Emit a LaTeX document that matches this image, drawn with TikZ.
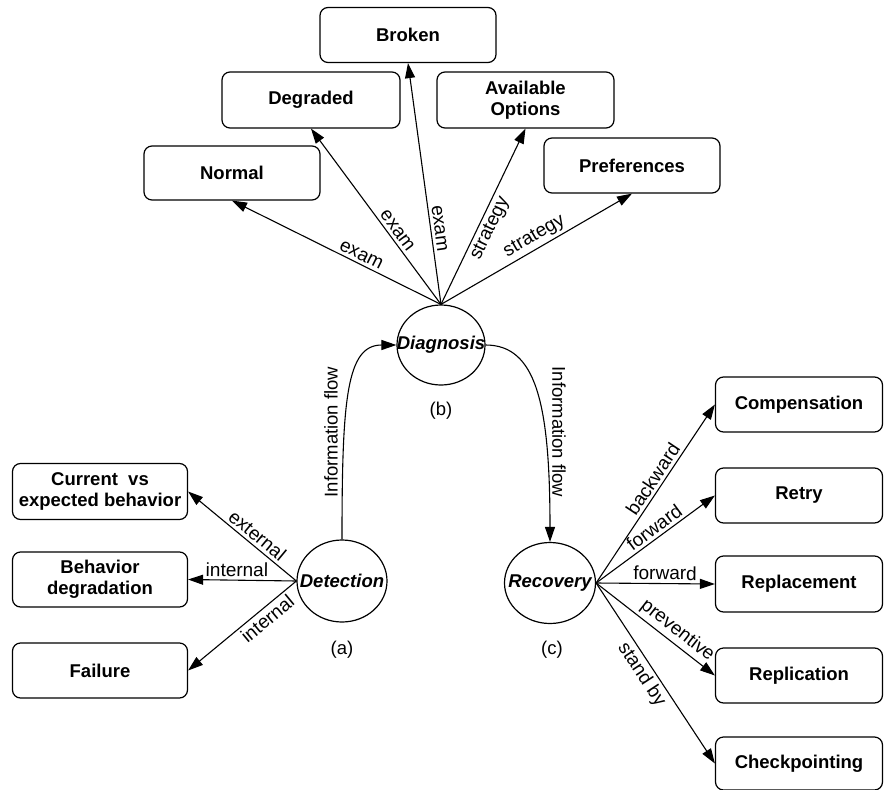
\documentclass[tikz,border=0pt]{standalone}
\usepackage{fontspec}
\setmainfont{Liberation Sans}
\usetikzlibrary{shapes.geometric,arrows.meta}
\begin{document}
\begin{tikzpicture}[x=1pt,y=-1pt,
  box/.style={draw, rounded corners=8pt, line width=1.2pt, align=center, inner sep=0pt,
    font=\bfseries\fontsize{18.5}{20.5}\selectfont},
  tbox/.style={box, minimum width=176pt, minimum height=55pt},
  lbox/.style={box, minimum width=175pt, minimum height=56pt},
  rbox/.style={box, minimum width=167pt, minimum height=56pt},
  circ/.style={draw, ellipse, line width=1.2pt, inner sep=0pt},
  ctext/.style={font=\bfseries\itshape\fontsize{18.5}{20}\selectfont, inner sep=0pt},
  arr/.style={-{Triangle[length=15pt,width=10pt]}, line width=1.1pt},
  lab/.style={font=\fontsize{19}{20}\selectfont, sloped, inner sep=3pt},
  plain/.style={font=\fontsize{18.5}{20}\selectfont, inner sep=0pt}
]
\useasboundingbox (0,0) rectangle (884,790);

% top boxes
\node[tbox] (broken) at (408,35) {Broken};
\node[tbox, minimum width=178pt, minimum height=56pt] (degraded) at (311,100) {Degraded};
\node[tbox, minimum width=177pt, minimum height=56pt] (avail) at (525.5,100) {Available\\Options};
\node[tbox, minimum height=54pt] (normal) at (232,173) {Normal};
\node[tbox] (pref) at (632,165.5) {Preferences};

% circles
\node[circ, minimum width=88pt, minimum height=80pt] (diag) at (441,345) {};
\node[ctext] (diagt) at (diag.center) {Diagnosis};
\node[circ, minimum width=90pt, minimum height=82pt] (det) at (342,581) {};
\node[ctext] (dett) at (det.center) {Detection};
\node[circ, minimum width=91pt, minimum height=81pt] (rec) at (550,583) {};
\node[ctext] (rect) at (rec.center) {Recovery};

\node[plain] (lb) at (441,411) {(b)};
\node[plain] (la) at (342,650) {(a)};
\node[plain] (lc) at (552,650) {(c)};

% left boxes
\node[lbox] (cur) at (100,491.5) {Current~~vs\\expected behavior};
\node[lbox, minimum height=55pt] (beh) at (100,579.5) {Behavior\\degradation};
\node[lbox, minimum height=55pt] (fail) at (100,670.5) {Failure};

% right boxes
\node[rbox, minimum height=55pt] (comp) at (799,404.5) {Compensation};
\node[rbox, minimum height=55pt] (retry) at (799,495.5) {Retry};
\node[rbox] (repl) at (799,584) {Replacement};
\node[rbox, minimum height=55pt] (replic) at (799,675.5) {Replication};
\node[rbox, minimum height=53pt] (check) at (799,763.5) {Checkpointing};

% diagnosis edges
\draw[arr] (diag.north) -- node[lab, pos=0.40, above] {exam} (normal.south);
\draw[arr] (diag.north) -- node[lab, pos=0.39, above] {exam} (degraded.south);
\draw[arr] (diag.north) -- node[lab, pos=0.31, above] {exam} (broken.south);
\draw[arr] (diag.north) -- node[lab, pos=0.46, below] {strategy} (avail.south);
\draw[arr] (diag.north) -- node[lab, pos=0.52, above] {strategy} (pref.south);

% information flow
\draw[arr] (det.north) .. controls +(0,-140) and +(-50,0) .. (diag.west);
\draw[arr] (diag.east) .. controls +(50,0) and +(0,-140) .. (rec.north);
\node[plain, rotate=90] (if1) at (331,432) {Information flow};
\node[plain, rotate=-90] (if2) at (559,432) {Information flow};

% detection edges
\draw[arr] (det.west) -- node[lab, pos=0.42, above] {external} (cur.east);
\draw[arr] (det.west) -- node[lab, pos=0.55, above] {internal} (beh.east);
\draw[arr] (det.west) -- node[lab, pos=0.33, below] {internal} (fail.east);

% recovery edges
\draw[arr] (rec.east) -- node[lab, pos=0.55, above] {backward} (comp.west);
\draw[arr] (rec.east) -- node[lab, pos=0.54, above] {forward} (retry.west);
\draw[arr] (rec.east) -- node[lab, pos=0.58, above] {forward} (repl.west);
\draw[arr] (rec.east) -- node[lab, pos=0.62, above] {preventive} (replic.west);
\draw[arr] (rec.east) -- node[lab, pos=0.47, below] {stand by} (check.west);
\end{tikzpicture}
\end{document}
